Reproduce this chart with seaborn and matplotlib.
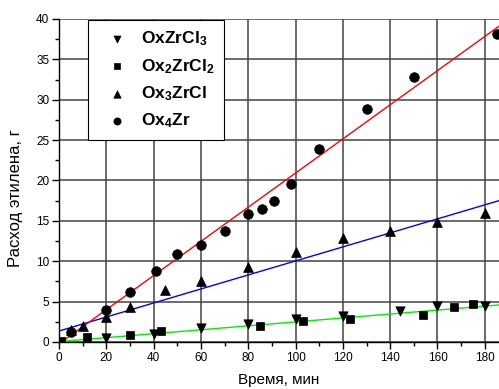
import numpy as np
import pandas as pd
import matplotlib
matplotlib.use("Agg")
import matplotlib.pyplot as plt
import seaborn as sns
from matplotlib.ticker import MultipleLocator

# --- data ---
t_oxzrcl3 = [20, 40, 60, 80, 100, 120, 144, 160, 180]
y_oxzrcl3 = [0.55, 1.0, 1.7, 2.2, 2.85, 3.2, 3.85, 4.4, 4.5]

t_ox2zrcl2 = [1, 12, 30, 43, 85, 103, 123, 154, 167, 175]
y_ox2zrcl2 = [0.15, 0.65, 0.87, 1.4, 2.0, 2.6, 2.85, 3.4, 4.3, 4.7]

t_ox3zrcl = [5, 10, 20, 30, 45, 60, 80, 100, 120, 140, 160, 180]
y_ox3zrcl = [1.5, 1.95, 3.1, 4.3, 6.4, 7.55, 9.3, 11.1, 12.85, 13.7, 14.9, 16.0]

t_ox4zr = [5, 20, 30, 41, 50, 60, 70, 80, 86, 91, 98, 110, 130, 150, 185]
y_ox4zr = [1.25, 3.95, 6.25, 8.75, 10.95, 12.05, 13.7, 15.9, 16.45, 17.4, 19.6, 23.9, 28.8, 32.8, 38.2]

# linear fits (slope, intercept) as drawn in the reference
fit_slope = [0.0244, 0.0868, 0.2115]
fit_intercept = [0.05, 1.36, -0.23]
fit_colors = ["#00ee00", "#0000ff", "#ff0000"]
fit_x = [0, 186]

labels = [r"OxZrCl$_3$", r"Ox$_2$ZrCl$_2$", r"Ox$_3$ZrCl", r"Ox$_4$Zr"]
markers = ["v", "s", "^", "o"]

sns.set_style("ticks")
plt.rcParams["font.family"] = ["Liberation Sans", "DejaVu Sans"]
plt.rcParams["mathtext.fontset"] = "custom"
plt.rcParams["mathtext.rm"] = "Liberation Sans:bold"
plt.rcParams["mathtext.it"] = "Liberation Sans:bold"
plt.rcParams["mathtext.bf"] = "Liberation Sans:bold"
for key in ["text.color", "axes.labelcolor", "xtick.color", "ytick.color"]:
    plt.rcParams[key] = "black"

fig = plt.figure(figsize=(4.99, 3.89), dpi=100)
ax = fig.add_axes([59 / 499, 47 / 389, 440 / 499, 323 / 389])

ax.grid(True, which="major", color="#444444", linewidth=1.1)
ax.set_axisbelow(True)

# fit lines
for s, b, c in zip(fit_slope, fit_intercept, fit_colors):
    fx = np.array(fit_x, dtype=float)
    sns.lineplot(x=fx, y=s * fx + b, color=c, linewidth=1.0, ax=ax, zorder=3)

series = [
    (t_oxzrcl3, y_oxzrcl3),
    (t_ox2zrcl2, y_ox2zrcl2),
    (t_ox3zrcl, y_ox3zrcl),
    (t_ox4zr, y_ox4zr),
]
sizes = [45, 30, 50, 48]
for (tx, ty), lab, m, sz in zip(series, labels, markers, sizes):
    sns.scatterplot(x=tx, y=ty, marker=m, s=sz, color="black", edgecolor="black",
                    linewidth=0.5, label=lab, ax=ax, zorder=4)

ax.set_xlim(0, 186)
ax.set_ylim(0, 40)
ax.xaxis.set_major_locator(MultipleLocator(20))
ax.xaxis.set_minor_locator(MultipleLocator(10))
ax.yaxis.set_major_locator(MultipleLocator(5))
ax.yaxis.set_minor_locator(MultipleLocator(2.5))
ax.tick_params(which="major", length=5, width=1, labelsize=8.5, color="black", pad=2)
ax.tick_params(which="minor", length=3, width=1, color="black")

for side in ["top", "right"]:
    ax.spines[side].set_visible(False)
for side in ["left", "bottom"]:
    ax.spines[side].set_color("black")
    ax.spines[side].set_linewidth(1.0)

ax.set_xlabel("Время, мин", fontsize=11, labelpad=7)
ax.set_ylabel("Расход этилена, г", fontsize=12)
ax.yaxis.set_label_coords(-0.082, 0.446)

leg = ax.legend(loc="upper left", bbox_to_anchor=(0.066, 0.997), borderaxespad=0,
                frameon=True, fancybox=False, framealpha=1, edgecolor="black",
                prop={"weight": "bold", "size": 12.5}, handletextpad=0.3,
                labelspacing=0.5, borderpad=0.55, handlelength=2.2, markerscale=0.75)
leg.get_frame().set_linewidth(0.8)
for txt in leg.get_texts():
    txt.set_color("black")

fig.savefig("out.png", dpi=100)
